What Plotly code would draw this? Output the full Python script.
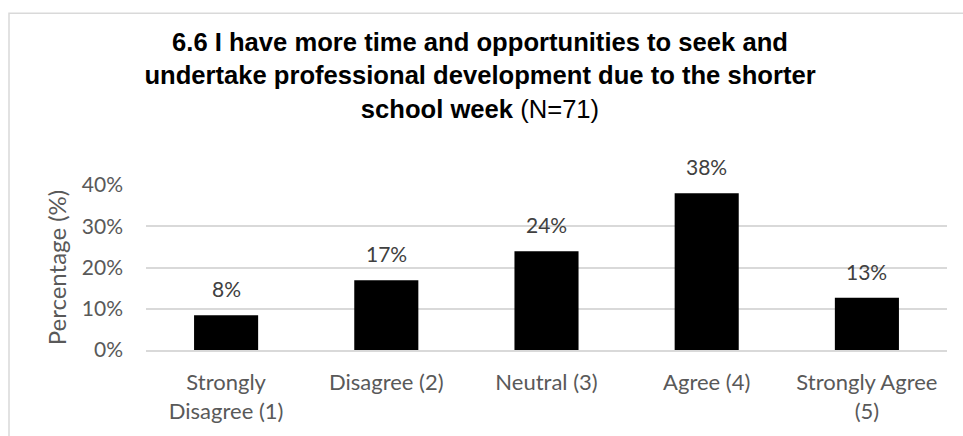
import plotly.graph_objects as go

# Survey item 6.6, responses of 71 teachers
categories = ["Strongly<br>Disagree (1)", "Disagree (2)", "Neutral (3)", "Agree (4)", "Strongly Agree<br>(5)"]
percentages = [8.45, 16.90, 23.94, 38.03, 12.68]
value_labels = ["8%", "17%", "24%", "38%", "13%"]
y_ticks = [0, 10, 20, 30, 40]
y_tick_labels = ["0%", "10%", "20%", "30%", "40%"]

W, H = 963, 436
M_L, M_R, M_T, M_B = 146, 16, 185, 83
plot_w = W - M_L - M_R
plot_h = H - M_T - M_B

label_font = dict(family="Lato, Open Sans, sans-serif", size=21, color="#404040")
tick_font = dict(family="Lato, Open Sans, sans-serif", size=21, color="#595959")
cat_font = dict(family="Lato, Open Sans, sans-serif", size=22, color="#595959")

fig = go.Figure()
fig.add_trace(go.Bar(
    x=categories,
    y=percentages,
    marker=dict(color="#000000", line=dict(width=0)),
    width=0.4,
    hoverinfo="skip",
))

for cat, val, txt in zip(categories, percentages, value_labels):
    fig.add_annotation(
        x=cat, y=val, text=txt, showarrow=False,
        yanchor="bottom", yshift=12, font=label_font,
    )

# chart frame (light grey border along the top and left edge)
fig.add_shape(
    type="rect", xref="paper", yref="paper",
    x0=(9 - M_L) / plot_w, x1=(W + 20 - M_L) / plot_w,
    y0=-(M_B + 20) / plot_h, y1=(H - 10 - M_B) / plot_h,
    line=dict(color="#d9d9d9", width=1.5), fillcolor="rgba(0,0,0,0)", layer="below",
)

fig.update_layout(
    width=W, height=H,
    margin=dict(l=M_L, r=M_R, t=M_T, b=M_B, pad=0),
    paper_bgcolor="white", plot_bgcolor="white",
    showlegend=False,
    bargap=0.6,
    title=dict(
        text="<b>6.6 I have more time and opportunities to seek and<br>"
             "undertake professional development due to the shorter<br>"
             "school week</b> (N=71)",
        font=dict(family="Liberation Sans, Arial, sans-serif", size=25.6, color="#000000"),
        x=480 / W, xanchor="center", xref="container",
        y=1 - 51 / H, yanchor="top", yref="container",
    ),
    xaxis=dict(
        showgrid=False, showline=True, linecolor="#d9d9d9", linewidth=1.5,
        ticks="", tickfont=cat_font, ticklabelstandoff=12, fixedrange=True,
    ),
    yaxis=dict(
        range=[0, 40], tickvals=y_ticks, ticktext=y_tick_labels,
        showgrid=True, gridcolor="#d9d9d9", gridwidth=1.5,
        zeroline=False, showline=False, ticks="", ticklabelstandoff=22,
        tickfont=tick_font,
        title=dict(text="Percentage (%)", font=dict(family="Lato, Open Sans, sans-serif", size=24, color="#595959"), standoff=8),
    ),
)

fig.write_html("out.html")
